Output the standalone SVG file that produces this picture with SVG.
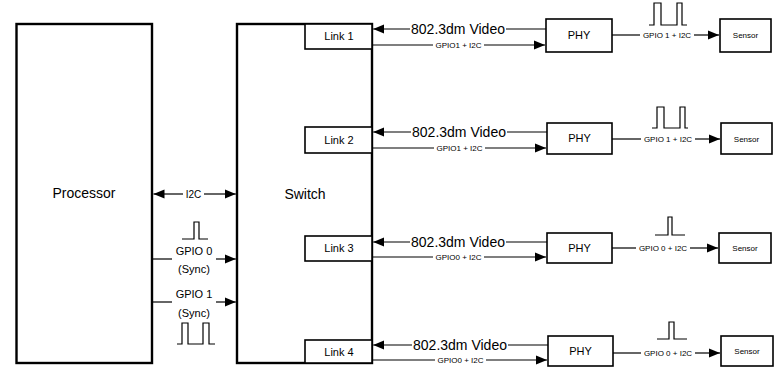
<svg xmlns="http://www.w3.org/2000/svg" width="778" height="368" viewBox="0 0 778 368">
<defs>
<marker id="ah" markerUnits="userSpaceOnUse" markerWidth="12" markerHeight="10" refX="11" refY="5" orient="auto-start-reverse">
<path d="M0,0.5 L11,5 L0,9.5 Z" fill="#000"/>
</marker>
<style>
.big{fill:#fff;stroke:#000;stroke-width:2.4}
.box{fill:#fff;stroke:#000;stroke-width:1.6}
.ln{fill:none;stroke:#000;stroke-width:1.2}
.pl{fill:none;stroke:#000;stroke-width:1.2}
text{font-family:"Liberation Sans",Arial,sans-serif;fill:#000;text-anchor:middle}
.t14{font-size:14px}
.t11{font-size:11px}
.t10{font-size:10px}
.t8{font-size:8px}
</style>
</defs>
<rect width="778" height="368" fill="#fff"/>

<g id="processor">
<rect class="big" x="16.5" y="24" width="135.5" height="339"/>
<text class="t14" x="84" y="198">Processor</text>
</g>
<g id="switch">
<rect class="big" x="237" y="24" width="135" height="339"/>
<text class="t14" x="305" y="199">Switch</text>
</g>
<g id="link1"><rect class="box" x="305" y="24" width="67" height="25"/><text class="t11" x="339" y="40">Link 1</text></g>
<g id="link2"><rect class="box" x="305" y="127" width="67" height="26"/><text class="t11" x="339" y="144">Link 2</text></g>
<g id="link3"><rect class="box" x="305" y="236" width="67" height="25"/><text class="t11" x="339" y="252">Link 3</text></g>
<g id="link4"><rect class="box" x="305" y="340" width="67" height="23"/><text class="t11" x="339" y="356">Link 4</text></g>

<g id="phy1"><rect class="box" x="546" y="19" width="66" height="33"/><text class="t11" x="579" y="39">PHY</text></g>
<g id="phy2"><rect class="box" x="547" y="123" width="65" height="31"/><text class="t11" x="579.5" y="142">PHY</text></g>
<g id="phy3"><rect class="box" x="547" y="233" width="65" height="30"/><text class="t11" x="579.5" y="252">PHY</text></g>
<g id="phy4"><rect class="box" x="548" y="336" width="65" height="30"/><text class="t11" x="580.5" y="355">PHY</text></g>

<g id="sensor1"><rect class="box" x="720" y="19" width="51" height="33"/><text class="t8" x="745.5" y="38">Sensor</text></g>
<g id="sensor2"><rect class="box" x="721" y="123" width="51" height="31"/><text class="t8" x="746.5" y="141.5">Sensor</text></g>
<g id="sensor3"><rect class="box" x="719" y="233" width="52" height="30"/><text class="t8" x="745" y="251">Sensor</text></g>
<g id="sensor4"><rect class="box" x="721" y="336" width="52" height="30"/><text class="t8" x="747" y="354">Sensor</text></g>

<g id="connectors">
<!-- left side -->
<line class="ln" x1="183" y1="194" x2="153.5" y2="194" marker-end="url(#ah)"/>
<line class="ln" x1="204" y1="194" x2="235.8" y2="194" marker-end="url(#ah)"/>
<text class="t10" x="193.5" y="197.5">I2C</text>

<polyline class="pl" points="182,239 194,239 194,222 199,222 199,239 208,239"/>
<line class="ln" x1="153" y1="259" x2="172" y2="259"/>
<line class="ln" x1="216" y1="259" x2="235.8" y2="259" marker-end="url(#ah)"/>
<text class="t11" x="194" y="255">GPIO 0</text>
<text class="t11" x="194" y="273">(Sync)</text>

<line class="ln" x1="153" y1="302" x2="172" y2="302"/>
<line class="ln" x1="216" y1="302" x2="235.8" y2="302" marker-end="url(#ah)"/>
<text class="t11" x="194" y="298">GPIO 1</text>
<text class="t11" x="194" y="317">(Sync)</text>
<polyline class="pl" points="177,344 182,344 182,323 188,323 188,344 203,344 203,323 209,323 209,344 215,344"/>

<!-- row 1 -->
<line class="ln" x1="410" y1="29" x2="373.2" y2="29" marker-end="url(#ah)"/>
<line class="ln" x1="506" y1="29" x2="546" y2="29"/>
<text class="t14" x="458" y="34">802.3dm Video</text>
<line class="ln" x1="372" y1="45" x2="433" y2="45"/>
<line class="ln" x1="484" y1="45" x2="545" y2="45" marker-end="url(#ah)"/>
<text class="t8" x="458.5" y="48">GPIO1 + I2C</text>
<line class="ln" x1="612" y1="35" x2="640" y2="35"/>
<line class="ln" x1="694" y1="35" x2="719" y2="35" marker-end="url(#ah)"/>
<text class="t8" x="667" y="38">GPIO 1 + I2C</text>
<polyline class="pl" points="649,25 654,25 654,3 661,3 661,25 677,25 677,3 682,3 682,25 687,25"/>

<!-- row 2 -->
<line class="ln" x1="411" y1="132" x2="373.2" y2="132" marker-end="url(#ah)"/>
<line class="ln" x1="507" y1="132" x2="547" y2="132"/>
<text class="t14" x="459" y="137">802.3dm Video</text>
<line class="ln" x1="372" y1="148" x2="434" y2="148"/>
<line class="ln" x1="485" y1="148" x2="546" y2="148" marker-end="url(#ah)"/>
<text class="t8" x="459.5" y="151">GPIO1 + I2C</text>
<line class="ln" x1="612" y1="139" x2="641" y2="139"/>
<line class="ln" x1="695" y1="139" x2="720" y2="139" marker-end="url(#ah)"/>
<text class="t8" x="668" y="142">GPIO 1 + I2C</text>
<polyline class="pl" points="652,128 657,128 657,107 664,107 664,128 680,128 680,107 685,107 685,128 688,128"/>

<!-- row 3 -->
<line class="ln" x1="410" y1="242" x2="373.2" y2="242" marker-end="url(#ah)"/>
<line class="ln" x1="506" y1="242" x2="547" y2="242"/>
<text class="t14" x="458" y="247">802.3dm Video</text>
<line class="ln" x1="372" y1="257" x2="433" y2="257"/>
<line class="ln" x1="484" y1="257" x2="546" y2="257" marker-end="url(#ah)"/>
<text class="t8" x="458.5" y="260">GPIO0 + I2C</text>
<line class="ln" x1="612" y1="248" x2="636" y2="248"/>
<line class="ln" x1="690" y1="248" x2="718" y2="248" marker-end="url(#ah)"/>
<text class="t8" x="663" y="251">GPIO 0 + I2C</text>
<polyline class="pl" points="655,235 668,235 668,217 672,217 672,235 685,235"/>

<!-- row 4 -->
<line class="ln" x1="412" y1="345" x2="373.2" y2="345" marker-end="url(#ah)"/>
<line class="ln" x1="508" y1="345" x2="548" y2="345"/>
<text class="t14" x="460" y="350">802.3dm Video</text>
<line class="ln" x1="372" y1="360" x2="435" y2="360"/>
<line class="ln" x1="486" y1="360" x2="547" y2="360" marker-end="url(#ah)"/>
<text class="t8" x="460.5" y="363">GPIO0 + I2C</text>
<line class="ln" x1="613" y1="353" x2="641" y2="353"/>
<line class="ln" x1="695" y1="353" x2="720" y2="353" marker-end="url(#ah)"/>
<text class="t8" x="668" y="356">GPIO 0 + I2C</text>
<polyline class="pl" points="657,339 669,339 669,322 674,322 674,339 687,339"/>
</g>
</svg>
